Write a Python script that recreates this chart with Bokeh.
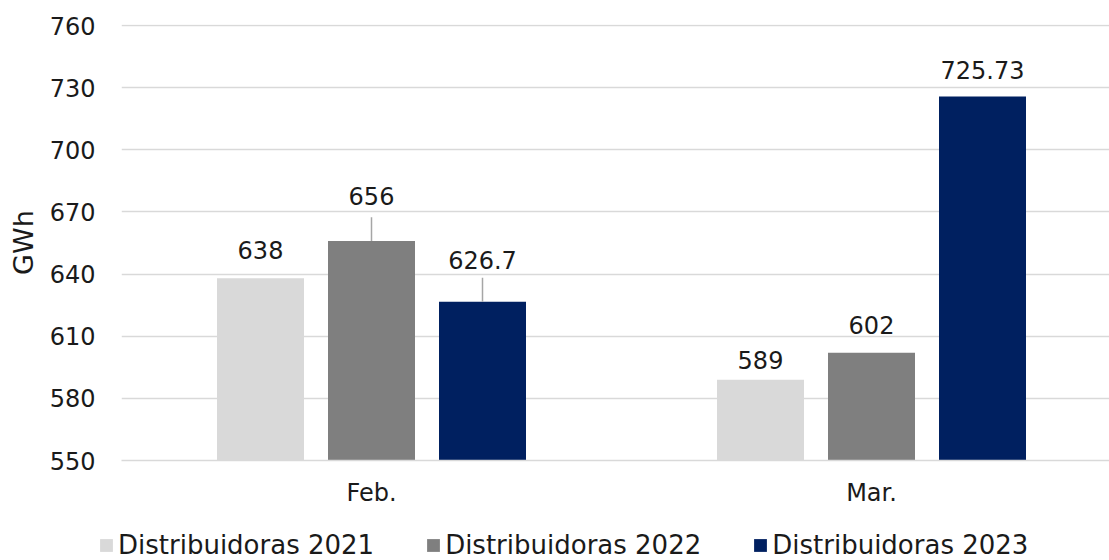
from bokeh.plotting import figure
from bokeh.layouts import column
from bokeh.models import Range1d, FixedTicker, ColumnDataSource, Legend, LegendItem
from bokeh.core.properties import value
from bokeh.embed import file_html
from bokeh.resources import INLINE

# ---- data ----
months = ["Feb.", "Mar."]
series_names = ["Distribuidoras 2021", "Distribuidoras 2022", "Distribuidoras 2023"]
v2021 = [638, 589]
v2022 = [656, 602]
v2023 = [626.7, 725.73]
y_ticks = [550, 580, 610, 640, 670, 700, 730, 760]

# ---- style ----
colors = ["#D9D9D9", "#7F7F7F", "#002060"]
has_leader = [[False, False], [True, False], [True, False]]
label_lift_px = [[28, 20], [45, 28], [42, 27]]
FONT = "DejaVu Sans"
TXT = "#1A1A1A"
GRID = "#D9D9D9"

p = figure(width=1109, height=524,
           x_range=Range1d(0, 1.976), y_range=Range1d(550, 760.5),
           output_backend="svg", toolbar_location=None,
           min_border_left=121, min_border_right=0, min_border_top=24,
           min_border_bottom=64)
p.outline_line_color = None
p.background_fill_color = "white"

group_centers = [i + 0.5 for i in range(len(months))]
offset_step = 0.222
bar_w = 0.174

for s, (name, vals, col, lead, lift) in enumerate(
        zip(series_names, [v2021, v2022, v2023], colors, has_leader, label_lift_px)):
    xs = [c + (s - 1) * offset_step for c in group_centers]
    src = ColumnDataSource(dict(x=xs, top=vals))
    p.vbar(x="x", top="top", bottom=550, width=bar_w, source=src,
           fill_color=col, line_color=None)
    # leader lines
    lx = [x for x, l in zip(xs, lead) if l]
    lv = [v for v, l in zip(vals, lead) if l]
    if lx:
        p.segment(x0=lx, y0=lv, x1=lx, y1=[v + 11.5 for v in lv],
                  line_color="#A6A6A6", line_width=1.5)
    labels = [f"{v:g}" for v in vals]
    offs = [-o for o in lift]
    tsrc = ColumnDataSource(dict(x=xs, y=vals, t=labels, o=offs))
    p.text(x="x", y="y", text="t", y_offset="o", source=tsrc,
           text_align="center", text_baseline="alphabetic",
           text_font=value(FONT), text_font_size="24px", text_color=TXT)

# axes
p.yaxis.ticker = FixedTicker(ticks=y_ticks)
p.yaxis.axis_line_color = None
p.yaxis.major_tick_line_color = None
p.yaxis.minor_tick_line_color = None
p.yaxis.major_tick_out = 0
p.yaxis.major_label_standoff = 26
p.yaxis.major_label_text_font = FONT
p.yaxis.major_label_text_font_size = "24px"
p.yaxis.major_label_text_color = TXT
p.yaxis.axis_label = "GWh"
p.yaxis.axis_label_text_font = FONT
p.yaxis.axis_label_text_font_size = "27px"
p.yaxis.axis_label_text_font_style = "normal"
p.yaxis.axis_label_text_color = TXT
p.yaxis.axis_label_standoff = 8

p.xaxis.ticker = FixedTicker(ticks=group_centers)
p.xaxis.major_label_overrides = {c: m for c, m in zip(group_centers, months)}
p.xaxis.axis_line_color = GRID
p.xaxis.axis_line_width = 1.5
p.xaxis.major_tick_line_color = None
p.xaxis.minor_tick_line_color = None
p.xaxis.major_tick_out = 0
p.xaxis.major_label_standoff = 18
p.xaxis.major_label_text_font = FONT
p.xaxis.major_label_text_font_size = "24px"
p.xaxis.major_label_text_color = TXT

p.xgrid.grid_line_color = None
p.ygrid.ticker = FixedTicker(ticks=y_ticks)
p.ygrid.grid_line_color = GRID
p.ygrid.grid_line_width = 1.5

# ---- legend strip ----
lf = figure(width=1109, height=36, x_range=Range1d(0, 1), y_range=Range1d(0, 1),
            output_backend="svg", toolbar_location=None,
            x_axis_type=None, y_axis_type=None,
            min_border_left=0, min_border_right=0, min_border_top=0, min_border_bottom=0)
lf.frame_align = False
lf.outline_line_color = None
lf.xgrid.visible = False
lf.ygrid.visible = False
items = []
for name, col in zip(series_names, colors):
    # zero-height proxy bar, only used for the legend swatch
    r = lf.vbar(x=[0], top=[0], bottom=[0], width=0.0, fill_color=col, line_color=None)
    items.append(LegendItem(label=name, renderers=[r]))
legend = Legend(items=items, orientation="horizontal", location=(98, 0),
                border_line_color=None, background_fill_alpha=0,
                label_text_font=FONT, label_text_font_size="26px",
                label_text_color=TXT, glyph_width=16, glyph_height=16,
                label_height=24, spacing=51, label_standoff=4, padding=0, margin=0)
lf.add_layout(legend)

layout = column(p, lf, spacing=0)
open("out.html", "w").write(file_html(layout, INLINE))
